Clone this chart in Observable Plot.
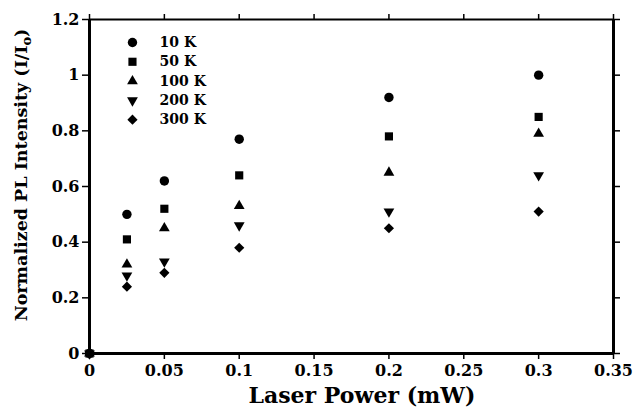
<!DOCTYPE html>
<html>
<head>
<meta charset="utf-8">
<script src="https://cdn.jsdelivr.net/npm/d3@7"></script>
<script src="https://cdn.jsdelivr.net/npm/@observablehq/plot@0.6"></script>
<style>
  html, body { margin: 0; padding: 0; background: #fff; }
  #chart svg { display: block; }
</style>
</head>
<body>
<div id="chart"></div>
<script>
// ---- Data ----
const power = [0, 0.025, 0.05, 0.1, 0.2, 0.3];
const series = ["10 K", "50 K", "100 K", "200 K", "300 K"];
const v10  = [0, 0.50, 0.62, 0.77, 0.92, 1.00];
const v50  = [0, 0.41, 0.52, 0.64, 0.78, 0.85];
const v100 = [0, 0.32, 0.45, 0.53, 0.65, 0.79];
const v200 = [0, 0.28, 0.33, 0.46, 0.51, 0.64];
const v300 = [0, 0.24, 0.29, 0.38, 0.45, 0.51];
const xTicks = [0, 0.05, 0.1, 0.15, 0.2, 0.25, 0.3, 0.35];
const yTicks = [0, 0.2, 0.4, 0.6, 0.8, 1, 1.2];

const values = [v10, v50, v100, v200, v300];
const symbols = ["circle", "square", "triangle", "triangle", "diamond2"];
const rotations = [0, 0, 0, 180, 0];
const radii = [4.7, 4.6, 4.0, 4.0, 4.6];

const rows = [];
series.forEach((s, i) => {
  power.forEach((p, j) => rows.push({ s, i, x: p, y: values[i][j] }));
});
const legendRows = series.map((s, i) => ({ s, i, y: 1.1175 - i * 0.0694 }));

const font = "'DejaVu Serif', serif";

const marks = [];
series.forEach((s, i) => {
  marks.push(Plot.dot(rows.filter(d => d.i === i), {
    x: "x", y: "y", symbol: () => symbols[i], r: radii[i], rotate: rotations[i],
    fill: "black", stroke: "none"
  }));
  marks.push(Plot.dot([legendRows[i]], {
    x: () => 0.0287, y: "y", symbol: () => symbols[i], r: radii[i], rotate: rotations[i],
    fill: "black", stroke: "none"
  }));
});
marks.push(Plot.text(legendRows, {
  x: () => 0.0468, y: "y", text: "s", textAnchor: "start",
  fontSize: 14, fontWeight: "bold", fill: "black"
}));

const plot = Plot.plot({
  width: 636,
  height: 410,
  marginLeft: 89,
  marginRight: 23,
  marginTop: 19,
  marginBottom: 57,
  style: { fontFamily: font, fontWeight: "bold", fontSize: "16px", color: "black", background: "white" },
  x: { domain: [0, 0.35] },
  y: { domain: [0, 1.2] },
  marks: [
    Plot.axisX({ anchor: "bottom", ticks: xTicks, tickSize: 6, tickPadding: 5, tickFormat: d => String(d), label: null, strokeWidth: 1.5, fontSize: 16 }),
    Plot.axisX({ anchor: "top", ticks: xTicks, tickSize: 6, tickFormat: () => "", label: null, strokeWidth: 1.5 }),
    Plot.axisY({ anchor: "left", ticks: yTicks, tickSize: 7, tickPadding: 3, tickFormat: d => String(d), label: null, strokeWidth: 1.5, fontSize: 16 }),
    Plot.axisY({ anchor: "right", ticks: yTicks, tickSize: 6, tickFormat: () => "", label: null, strokeWidth: 1.5 }),
    Plot.ruleX([0], { stroke: "black", strokeWidth: 3 }),
    Plot.ruleX([0.35], { stroke: "black", strokeWidth: 3 }),
    Plot.ruleY([0], { stroke: "black", strokeWidth: 3 }),
    Plot.ruleY([1.2], { stroke: "black", strokeWidth: 2 }),
    ...marks
  ]
});

const svg = d3.select(plot);
// X axis title
svg.append("text")
  .attr("x", 362).attr("y", 403)
  .attr("text-anchor", "middle")
  .attr("font-family", font).attr("font-weight", "bold").attr("font-size", 22)
  .attr("fill", "black")
  .text("Laser Power (mW)");
// Y axis title with subscript
const yt = svg.append("text")
  .attr("transform", "translate(27,175) rotate(-90)")
  .attr("text-anchor", "middle")
  .attr("font-family", font).attr("font-weight", "bold").attr("font-size", 17.5)
  .attr("fill", "black");
yt.append("tspan").text("Normalized PL Intensity (I/I");
yt.append("tspan").attr("dy", 4).attr("font-size", 13).text("o");
yt.append("tspan").attr("dy", -4).text(")");

document.getElementById("chart").appendChild(plot);
</script>
</body>
</html>
